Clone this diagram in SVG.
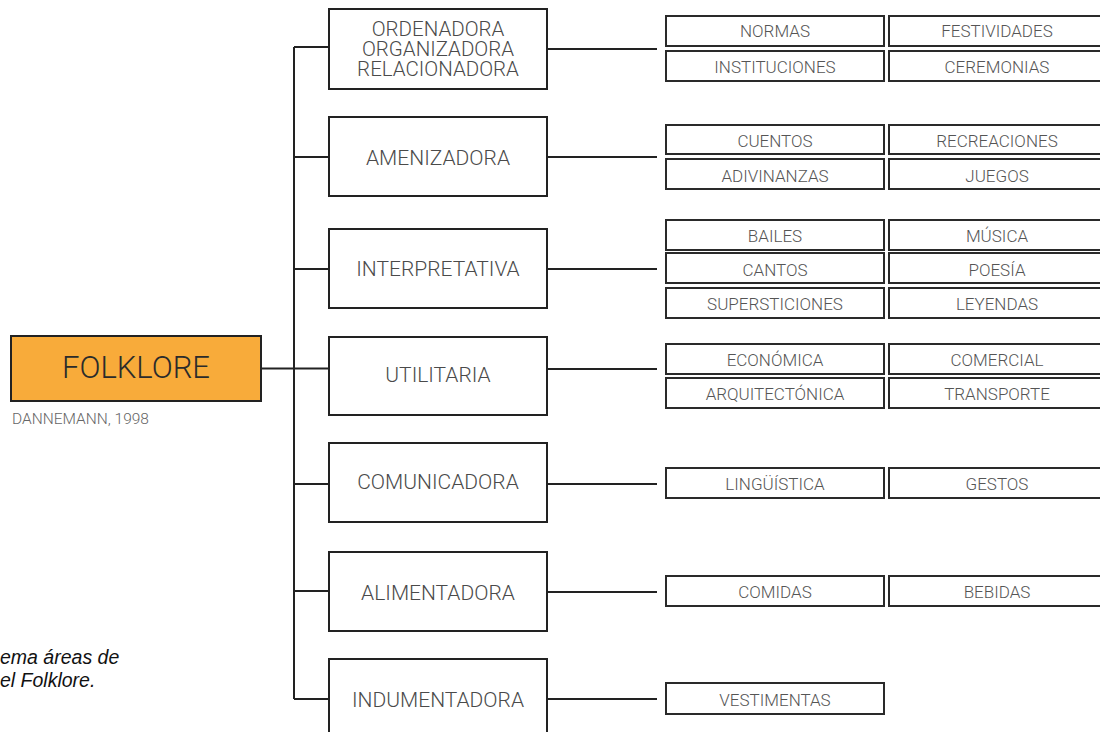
<svg xmlns="http://www.w3.org/2000/svg" width="1100" height="732" viewBox="0 0 1100 732">
  <style>
    .main rect { fill: #ffffff; stroke: #222222; stroke-width: 2; }
    .main text { font-family: Roboto, "Liberation Sans", sans-serif; font-weight: 300; font-size: 21px; fill: #4a4a4a; text-anchor: middle; }
    .main .stack { font-size: 20.5px; }
    .leaf rect { fill: #ffffff; stroke: #2a2a2a; stroke-width: 2; }
    .leaf text { font-family: Roboto, "Liberation Sans", sans-serif; font-weight: 300; font-size: 17px; fill: #555555; text-anchor: middle; }
    .wire { fill: none; stroke: #222222; stroke-width: 2; }
    .caption { font-family: "Liberation Sans", Arial, sans-serif; font-style: italic; font-size: 19.5px; fill: #111111; }
  </style>
  <rect width="1100" height="732" fill="#ffffff"/>

  <!-- connectors -->
  <g id="connectors" class="wire">
    <path d="M294 47 V699"/>
    <path d="M261 368.5 H329"/>
    <path d="M294 47 H329"/>
    <path d="M294 157 H329"/>
    <path d="M294 269 H329"/>
    <path d="M294 484 H329"/>
    <path d="M294 591 H329"/>
    <path d="M294 699 H329"/>
    <path d="M547 49 H657"/>
    <path d="M547 157 H657"/>
    <path d="M547 269 H657"/>
    <path d="M547 369 H657"/>
    <path d="M547 484 H657"/>
    <path d="M547 592 H657"/>
    <path d="M547 699 H657"/>
  </g>

  <!-- root -->
  <g id="folklore">
    <rect x="11" y="336" width="250" height="65" fill="#F8AB3A" stroke="#222222" stroke-width="2"/>
    <text x="136" y="378" font-family="Roboto, 'Liberation Sans', sans-serif" font-weight="300" font-size="31" fill="#2b2b2b" text-anchor="middle">FOLKLORE</text>
    <text x="12" y="424" font-family="Roboto, 'Liberation Sans', sans-serif" font-weight="300" font-size="15.5" fill="#666666">DANNEMANN, 1998</text>
  </g>

  <!-- function areas -->
  <g id="ordenadora" class="main">
    <rect x="329" y="9" width="218" height="80"/>
    <text class="stack" x="438" y="36">ORDENADORA</text>
    <text class="stack" x="438" y="56">ORGANIZADORA</text>
    <text class="stack" x="438" y="76">RELACIONADORA</text>
  </g>
  <g id="amenizadora" class="main">
    <rect x="329" y="117" width="218" height="79"/>
    <text x="438" y="165">AMENIZADORA</text>
  </g>
  <g id="interpretativa" class="main">
    <rect x="329" y="229" width="218" height="79"/>
    <text x="438" y="276">INTERPRETATIVA</text>
  </g>
  <g id="utilitaria" class="main">
    <rect x="329" y="337" width="218" height="78"/>
    <text x="438" y="382">UTILITARIA</text>
  </g>
  <g id="comunicadora" class="main">
    <rect x="329" y="443" width="218" height="79"/>
    <text x="438" y="489">COMUNICADORA</text>
  </g>
  <g id="alimentadora" class="main">
    <rect x="329" y="552" width="218" height="79"/>
    <text x="438" y="600">ALIMENTADORA</text>
  </g>
  <g id="indumentadora" class="main">
    <rect x="329" y="659" width="218" height="90"/>
    <text x="438" y="707">INDUMENTADORA</text>
  </g>

  <!-- manifestations -->
  <g id="normas" class="leaf"><rect x="666" y="16" width="218" height="30"/><text x="775" y="37">NORMAS</text></g>
  <g id="festividades" class="leaf"><rect x="889" y="16" width="216" height="30"/><text x="997" y="37">FESTIVIDADES</text></g>
  <g id="instituciones" class="leaf"><rect x="666" y="51" width="218" height="30"/><text x="775" y="72.5">INSTITUCIONES</text></g>
  <g id="ceremonias" class="leaf"><rect x="889" y="51" width="216" height="30"/><text x="997" y="73">CEREMONIAS</text></g>

  <g id="cuentos" class="leaf"><rect x="666" y="125" width="218" height="29"/><text x="775" y="146.5">CUENTOS</text></g>
  <g id="recreaciones" class="leaf"><rect x="889" y="125" width="216" height="29"/><text x="997" y="146.5">RECREACIONES</text></g>
  <g id="adivinanzas" class="leaf"><rect x="666" y="159" width="218" height="30"/><text x="775" y="181.5">ADIVINANZAS</text></g>
  <g id="juegos" class="leaf"><rect x="889" y="159" width="216" height="30"/><text x="997" y="181.5">JUEGOS</text></g>

  <g id="bailes" class="leaf"><rect x="666" y="220" width="218" height="30"/><text x="775" y="241.5">BAILES</text></g>
  <g id="musica" class="leaf"><rect x="889" y="220" width="216" height="30"/><text x="997" y="241.5">MÚSICA</text></g>
  <g id="cantos" class="leaf"><rect x="666" y="253" width="218" height="30"/><text x="775" y="275.5">CANTOS</text></g>
  <g id="poesia" class="leaf"><rect x="889" y="253" width="216" height="30"/><text x="997" y="275.5">POESÍA</text></g>
  <g id="supersticiones" class="leaf"><rect x="666" y="288" width="218" height="30"/><text x="775" y="310">SUPERSTICIONES</text></g>
  <g id="leyendas" class="leaf"><rect x="889" y="288" width="216" height="30"/><text x="997" y="310">LEYENDAS</text></g>

  <g id="economica" class="leaf"><rect x="666" y="344" width="218" height="30"/><text x="775" y="366">ECONÓMICA</text></g>
  <g id="comercial" class="leaf"><rect x="889" y="344" width="216" height="30"/><text x="997" y="366">COMERCIAL</text></g>
  <g id="arquitectonica" class="leaf"><rect x="666" y="378" width="218" height="30"/><text x="775" y="400">ARQUITECTÓNICA</text></g>
  <g id="transporte" class="leaf"><rect x="889" y="378" width="216" height="30"/><text x="997" y="400">TRANSPORTE</text></g>

  <g id="linguistica" class="leaf"><rect x="666" y="468" width="218" height="30"/><text x="775" y="490">LINGÜÍSTICA</text></g>
  <g id="gestos" class="leaf"><rect x="889" y="468" width="216" height="30"/><text x="997" y="490">GESTOS</text></g>

  <g id="comidas" class="leaf"><rect x="666" y="576" width="218" height="30"/><text x="775" y="598">COMIDAS</text></g>
  <g id="bebidas" class="leaf"><rect x="889" y="576" width="216" height="30"/><text x="997" y="598">BEBIDAS</text></g>

  <g id="vestimentas" class="leaf"><rect x="666" y="683" width="218" height="31"/><text x="775" y="706">VESTIMENTAS</text></g>

  <!-- figure caption -->
  <text class="caption" x="0" y="664">ema áreas de</text>
  <text class="caption" x="0" y="687">el Folklore.</text>
</svg>
